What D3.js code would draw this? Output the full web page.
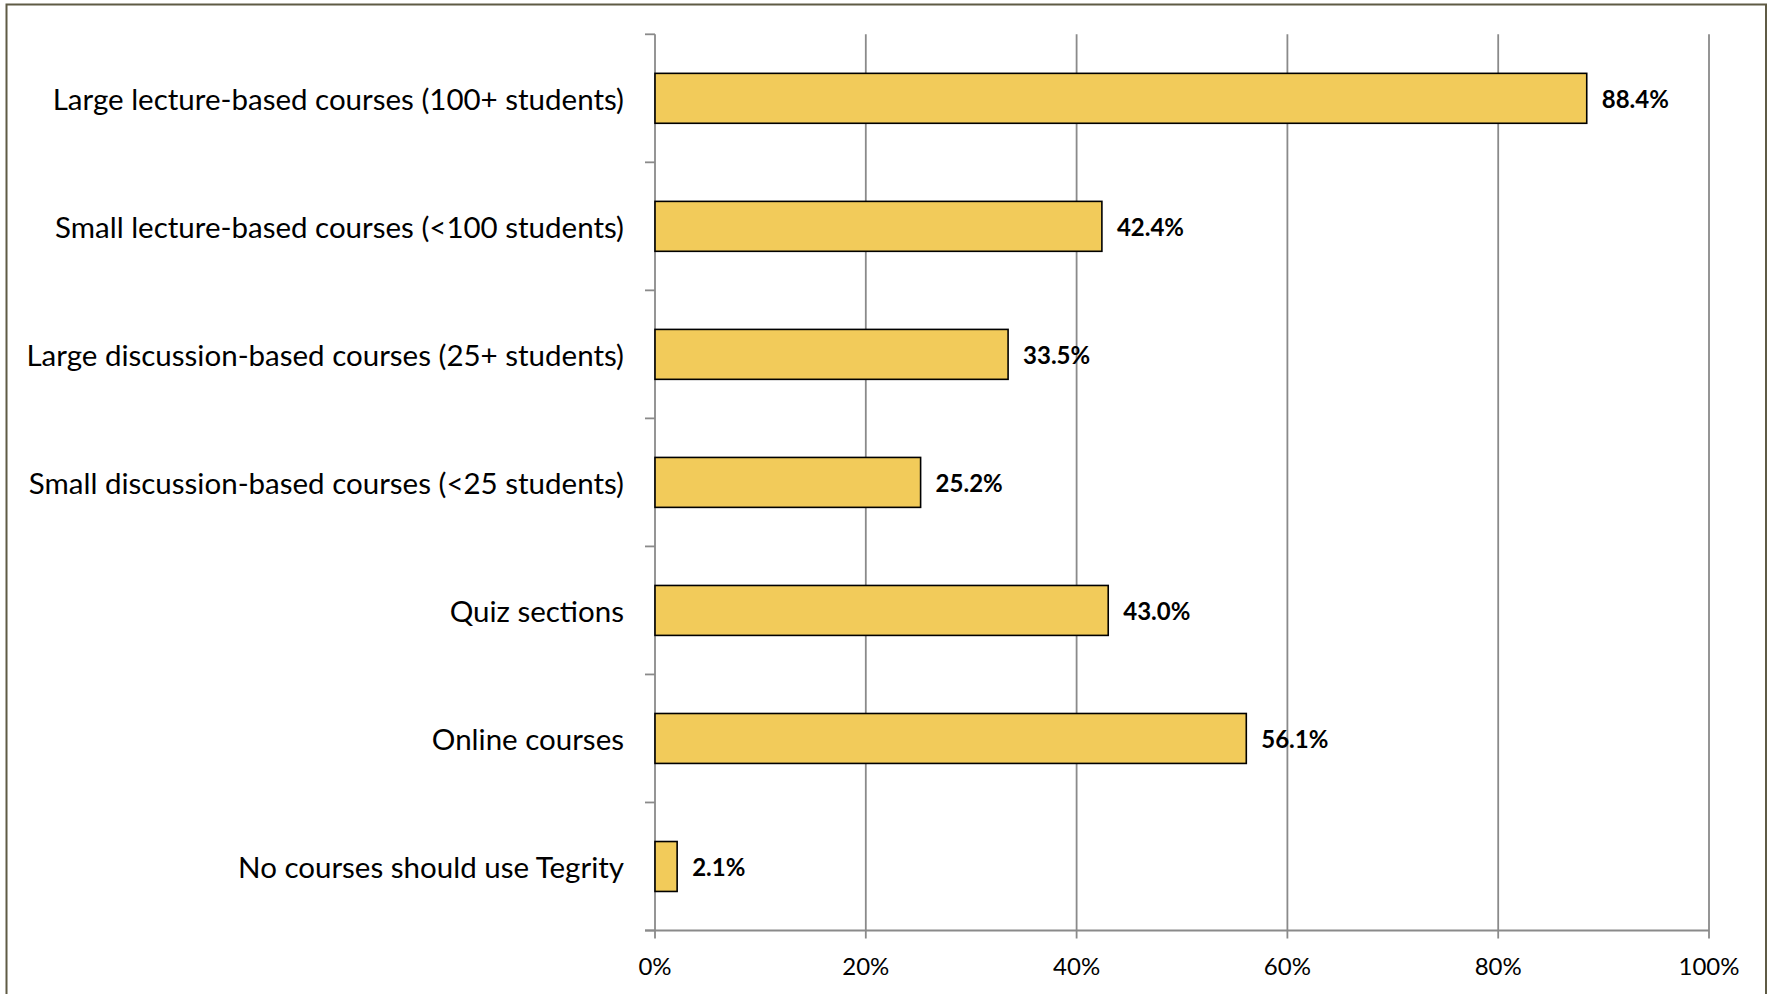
<!DOCTYPE html>
<html>
<head>
<meta charset="utf-8">
<script src="https://cdn.jsdelivr.net/npm/d3@7"></script>
<style>
  html, body { margin: 0; padding: 0; background: #fff; }
  svg { display: block; }
  text { font-family: Lato, "Open Sans", sans-serif; fill: #000; }
</style>
</head>
<body>
<svg id="chart" width="1771" height="994"></svg>
<script>
const categories = [
  "Large lecture-based courses (100+ students)",
  "Small lecture-based courses (<100 students)",
  "Large discussion-based courses (25+ students)",
  "Small discussion-based courses (<25 students)",
  "Quiz sections",
  "Online courses",
  "No courses should use Tegrity"
];
const values = [88.4, 42.4, 33.5, 25.2, 43.0, 56.1, 2.1];
const tickValues = [0, 20, 40, 60, 80, 100];
const tickLabels = ["0%", "20%", "40%", "60%", "80%", "100%"];

(function () {
const svg = d3.select("#chart");
const W = 1771, H = 994;
const plotLeft = 655, plotRight = 1709, plotTop = 34.3, plotBottom = 930.5;

// outer border
svg.append("rect")
  .attr("x", 6.5).attr("y", 4.5)
  .attr("width", 1766 - 6.5).attr("height", H + 10)
  .attr("fill", "none").attr("stroke", "#5f5b45").attr("stroke-width", 2);

const x = d3.scaleLinear().domain([0, 100]).range([plotLeft, plotRight]);
const y = d3.scaleBand().domain(categories).range([plotTop, plotBottom])
  .paddingInner(0.61).paddingOuter(0.305);

const gridColor = "#8a8a8a";

// vertical gridlines (with ticks extending below axis)
svg.append("g").selectAll("line").data(tickValues).join("line")
  .attr("x1", d => x(d)).attr("x2", d => x(d))
  .attr("y1", plotTop).attr("y2", plotBottom + 8)
  .attr("stroke", gridColor).attr("stroke-width", 1.8);

// y axis tick marks at band boundaries
const step = y.step();
const boundaries = d3.range(categories.length + 1).map(i => plotTop + i * step);
svg.append("g").selectAll("line").data(boundaries).join("line")
  .attr("x1", plotLeft - 10).attr("x2", plotLeft)
  .attr("y1", d => d).attr("y2", d => d)
  .attr("stroke", gridColor).attr("stroke-width", 1.8);

// x axis line
svg.append("line")
  .attr("x1", plotLeft - 10).attr("x2", plotRight)
  .attr("y1", plotBottom).attr("y2", plotBottom)
  .attr("stroke", gridColor).attr("stroke-width", 1.8);

// x tick labels
svg.append("g").selectAll("text").data(tickValues).join("text")
  .attr("x", d => x(d)).attr("y", 965)
  .attr("text-anchor", "middle").attr("dominant-baseline", "central")
  .attr("font-size", 24)
  .text((d, i) => tickLabels[i]);

// bars
svg.append("g").selectAll("rect").data(values).join("rect")
  .attr("x", x(0))
  .attr("y", (d, i) => y(categories[i]))
  .attr("width", d => x(d) - x(0))
  .attr("height", y.bandwidth())
  .attr("fill", "#f2cb5a")
  .attr("stroke", "#000").attr("stroke-width", 1.6);

// value labels
svg.append("g").selectAll("text").data(values).join("text")
  .attr("x", d => x(d) + 15)
  .attr("y", (d, i) => y(categories[i]) + y.bandwidth() / 2)
  .attr("dominant-baseline", "central")
  .attr("font-size", 24).attr("font-weight", "bold")
  .text(d => d.toFixed(1) + "%");

// category labels
svg.append("g").selectAll("text").data(categories).join("text")
  .attr("x", 624)
  .attr("y", d => y(d) + y.bandwidth() / 2)
  .attr("text-anchor", "end").attr("dominant-baseline", "central")
  .attr("font-size", 29.5)
  .text(d => d);
})();
</script>
</body>
</html>
